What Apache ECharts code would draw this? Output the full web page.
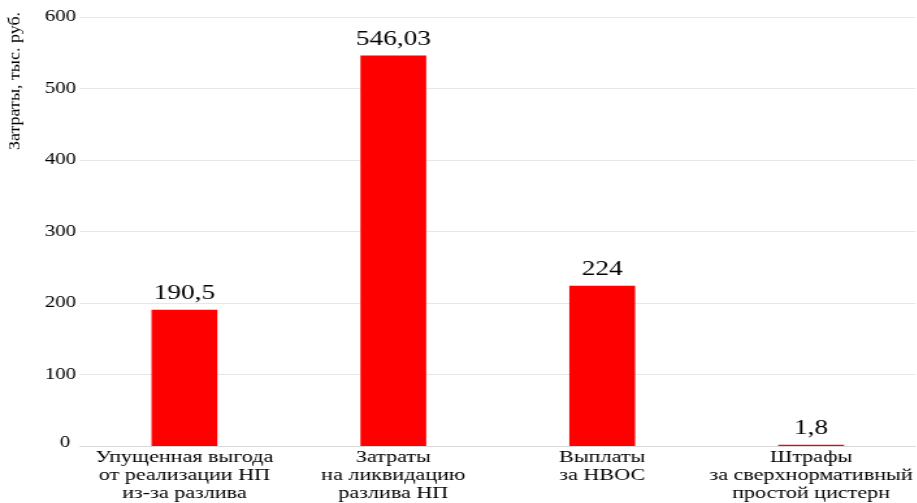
<!DOCTYPE html>
<html>
<head>
<meta charset="utf-8">
<script src="https://cdn.jsdelivr.net/npm/echarts@6/dist/echarts.min.js"></script>
<style>
  html, body { margin: 0; padding: 0; background: #fff; overflow: hidden; }
  /* the chart is laid out narrower and widened horizontally, giving the wide serif lettering */
  #chart {
    position: absolute; left: 0; top: 0;
    width: 705.4px; height: 503px;
    transform: scaleX(1.3); transform-origin: 0 0;
  }
</style>
</head>
<body>
<div id="chart"></div>
<script>
// Cost categories (multi-line captions)
const categories = [
  'Упущенная выгода\nот реализации НП\nиз-за разлива',
  'Затраты\nна ликвидацию\nразлива НП',
  'Выплаты\nза НВОС',
  'Штрафы\nза сверхнормативный\nпростой цистерн'
];
// Costs, thousand roubles
const costs = [190.5, 546.03, 224, 1.8];
// Value axis
const axisMin = 0;
const axisMax = 600;
const axisStep = 100;
const axisTitle = 'Затраты, тыс. руб.';

const serif = '"Liberation Serif", "Times New Roman", serif';
const chart = echarts.init(document.getElementById('chart'), null, { renderer: 'canvas' });

chart.setOption({
  animation: false,
  backgroundColor: '#ffffff',
  grid: { left: 61.5, right: 0, top: 17, bottom: 57, containLabel: false },
  xAxis: {
    type: 'category',
    data: categories,
    axisTick: { show: false },
    axisLine: { show: true, lineStyle: { color: '#d9d9d9', width: 1 } },
    axisLabel: {
      interval: 0,
      margin: 3,
      color: '#000',
      fontFamily: serif,
      fontSize: 17,
      lineHeight: 18
    }
  },
  yAxis: {
    type: 'value',
    min: axisMin,
    max: axisMax,
    interval: axisStep,
    axisLine: { show: false },
    axisTick: { show: false },
    splitLine: { lineStyle: { color: '#e6e6e6', width: 1 } },
    axisLabel: {
      margin: 3,
      color: '#000',
      fontFamily: serif,
      fontSize: 16,
      // the zero label sits a little further left and higher than the rest
      formatter: v => (v === 0 ? '{z|0}' : String(v)),
      rich: {
        z: {
          fontFamily: serif,
          fontSize: 16,
          color: '#000',
          padding: [0, 4.6, 7, 0]
        }
      }
    }
  },
  series: [{
    type: 'bar',
    data: costs,
    barWidth: '31.5%',
    itemStyle: { color: '#ff0000' },
    label: {
      show: true,
      position: 'top',
      distance: 6,
      color: '#000',
      fontFamily: serif,
      fontSize: 21,
      formatter: p => String(p.value).replace('.', ',')
    }
  }],
  graphic: [{
    type: 'text',
    x: 11.5,
    y: 81,
    rotation: Math.PI / 2,
    scaleY: 0.75,
    style: {
      text: axisTitle,
      fontFamily: serif,
      fontSize: 18,
      fill: '#000',
      align: 'center',
      verticalAlign: 'middle'
    }
  }]
});
</script>
</body>
</html>
